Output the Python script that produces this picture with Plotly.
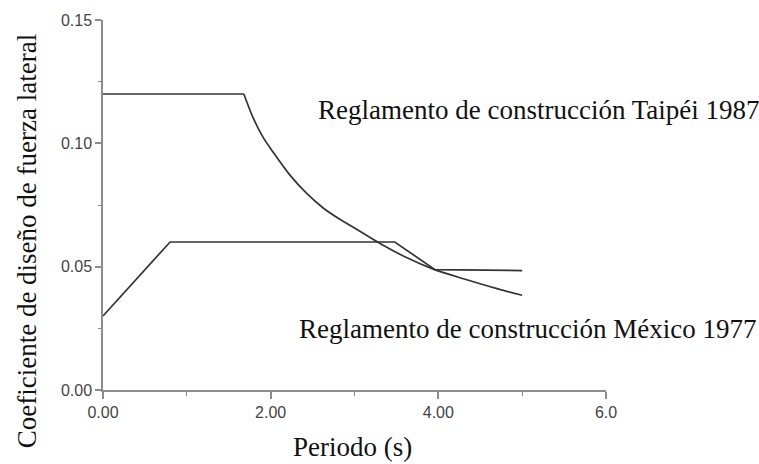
import plotly.graph_objects as go

# Periodo (s) y coeficiente sísmico, Taipéi 1987
taipei_T = [0.0, 1.68, 1.79, 1.91, 2.03, 2.23, 2.43, 2.63, 2.83, 2.95, 3.31, 3.62, 3.94, 4.30, 4.70, 5.0]
taipei_C = [0.120, 0.120, 0.1104, 0.1024, 0.0964, 0.0871, 0.0797, 0.0737, 0.0691, 0.0667, 0.0593, 0.0537, 0.0490, 0.0451, 0.0411, 0.0384]
taipei_plateau_end = 1  # índice donde termina la meseta

# Periodo (s) y coeficiente sísmico, México 1977
mexico_T = [0.0, 0.80, 3.48, 3.96, 5.0]
mexico_C = [0.030, 0.060, 0.060, 0.0488, 0.0484]

x_ticks = [0, 2, 4, 6]
x_ticktext = ["0.00", "2.00", "4.00", "6.0"]
y_ticks = [0.0, 0.05, 0.10, 0.15]
y_ticktext = ["0.00", "0.05", "0.10", "0.15"]

label_taipei = "Reglamento de construcción Taipéi 1987"
label_mexico = "Reglamento de construcción México 1977"
x_title = "Periodo (s)"
y_title = "Coeficiente de diseño de fuerza lateral"

line_color = "#333333"
axis_color = "#8c8c8c"
serif = "Liberation Serif, Times New Roman, serif"
sans = "Liberation Sans, Arial, sans-serif"

fig = go.Figure()
# meseta recta y rama descendente suavizada
k = taipei_plateau_end
fig.add_trace(go.Scatter(x=taipei_T[:k + 1], y=taipei_C[:k + 1], mode="lines",
                         line=dict(color=line_color, width=1.7), showlegend=False))
fig.add_trace(go.Scatter(x=taipei_T[k:], y=taipei_C[k:], mode="lines",
                         line=dict(color=line_color, width=1.7, shape="spline", smoothing=0.8),
                         showlegend=False))
fig.add_trace(go.Scatter(x=mexico_T, y=mexico_C, mode="lines",
                         line=dict(color=line_color, width=1.7), showlegend=False))

W, H = 759, 464
L, R, T, B = 103, 606, 16, 390.5


def px_to_paper(px, py):
    return (px - L) / (R - L), (B - py) / (B - T)


annotations = []
for text, (px, py), xanchor, angle in [
    (label_taipei, (316, 107), "left", 0),
    (label_mexico, (297, 329), "left", 0),
    (x_title, (352, 448), "center", 0),
    (y_title, (27, 240), "center", -90),
]:
    ax, ay = px_to_paper(px, py)
    annotations.append(dict(text=text, x=ax, y=ay, xref="paper", yref="paper",
                            xanchor=xanchor, yanchor="middle", showarrow=False,
                            textangle=angle,
                            font=dict(family=serif, size=27, color="#111111")))

fig.update_layout(
    width=W, height=H,
    margin=dict(l=L, r=W - R, t=T, b=H - B, pad=0),
    paper_bgcolor="white", plot_bgcolor="white",
    annotations=annotations,
    xaxis=dict(range=[0, 6], tickmode="array", tickvals=x_ticks, ticktext=x_ticktext,
               showgrid=False, zeroline=False, showline=True, linecolor=axis_color,
               linewidth=1.5, ticks="outside", ticklen=7, tickwidth=1.5, tickcolor=axis_color,
               tickfont=dict(family=sans, size=16, color="#444444"),
               minor=dict(tickmode="linear", tick0=0, dtick=1, ticks="outside",
                          ticklen=4, tickwidth=1.2, tickcolor=axis_color)),
    yaxis=dict(range=[0, 0.15], tickmode="array", tickvals=y_ticks, ticktext=y_ticktext,
               showgrid=False, zeroline=False, showline=True, linecolor=axis_color,
               linewidth=1.5, ticks="outside", ticklen=6, tickwidth=1.5, tickcolor=axis_color,
               tickfont=dict(family=sans, size=16, color="#444444"),
               minor=dict(tickmode="linear", tick0=0, dtick=0.025, ticks="outside",
                          ticklen=3, tickwidth=1.2, tickcolor=axis_color)),
)

fig.write_html("out.html")
